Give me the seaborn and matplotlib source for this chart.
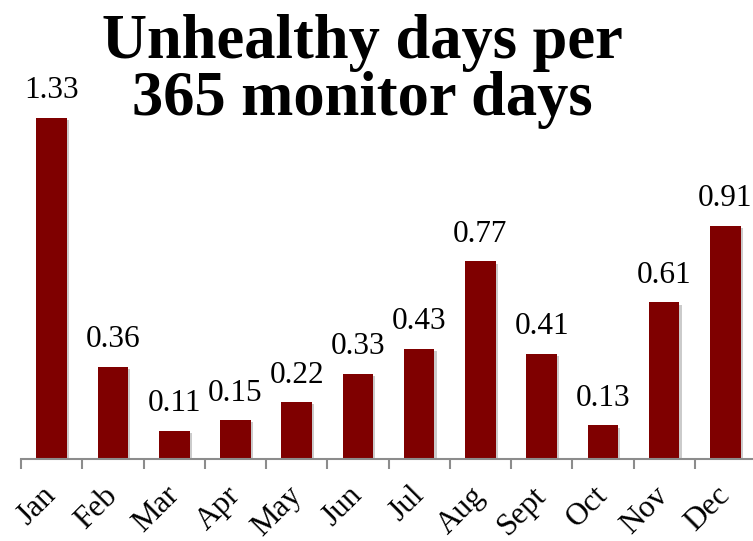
import numpy as np
import pandas as pd
import matplotlib
matplotlib.use("Agg")
import matplotlib.pyplot as plt
import matplotlib.patheffects as pe
import matplotlib.transforms as mtransforms
import seaborn as sns

# ---------------- data ----------------
months = ["Jan", "Feb", "Mar", "Apr", "May", "Jun", "Jul", "Aug", "Sept", "Oct", "Nov", "Dec"]
unhealthy_days = [1.33, 0.36, 0.11, 0.15, 0.22, 0.33, 0.43, 0.77, 0.41, 0.13, 0.61, 0.91]
value_labels = ["1.33", "0.36", "0.11", "0.15", "0.22", "0.33", "0.43", "0.77", "0.41", "0.13", "0.61", "0.91"]

df = pd.DataFrame({"Month": months, "Days": unhealthy_days})

sns.set_theme(style="white")
plt.rcParams["font.family"] = ["Liberation Serif", "DejaVu Serif"]
plt.rcParams["text.color"] = "black"
plt.rcParams["xtick.color"] = "black"

BAR_COLOR = "#7f0000"
AXIS_GRAY = "#8c8c8c"

fig = plt.figure(figsize=(7.53, 5.41), dpi=100)
ax = fig.add_axes([0.028, 0.152, 0.976, 0.758])

sns.barplot(data=df, x="Month", y="Days", color=BAR_COLOR, width=0.5,
            saturation=1, ax=ax)
for p in ax.patches:
    p.set_edgecolor("none")
    p.set_path_effects([pe.SimplePatchShadow(offset=(1.5, -1.5), shadow_rgbFace="#999999", alpha=0.5),
                        pe.Normal()])

ax.set_xlim(-0.5, 11.5)
ax.set_ylim(0, 1.6)

# value labels above bars
for i, (v, lab) in enumerate(zip(unhealthy_days, value_labels)):
    ax.text(i, v + 0.05, lab, ha="center", va="bottom", fontsize=22.5, color="black")

# only the bottom spine, ticks at category boundaries
for s in ["left", "right", "top"]:
    ax.spines[s].set_visible(False)
ax.spines["bottom"].set_color(AXIS_GRAY)
ax.spines["bottom"].set_linewidth(1.5)
ax.set_yticks([])
ax.set_xticks(np.arange(-0.5, 12, 1), minor=True)
ax.tick_params(axis="x", which="minor", length=7, width=1.5, color=AXIS_GRAY, direction="out", bottom=True)
ax.tick_params(axis="x", which="major", length=0, pad=16)
ax.set_xticks(range(len(months)))
ax.set_xticklabels(months, rotation=45, ha="right", rotation_mode="anchor", fontsize=22.5, color="black")
shift = mtransforms.ScaledTranslation(-0.10, 0, fig.dpi_scale_trans)
for lbl in ax.get_xticklabels():
    lbl.set_transform(lbl.get_transform() + shift)
ax.set_xlabel("")
ax.set_ylabel("")

fig.text(0.481, 0.974, "Unhealthy days per\n365 monitor days", ha="center", va="top",
         fontsize=45, fontweight="bold", linespacing=0.98, color="black")

fig.savefig("out.png", dpi=100, facecolor="white")
